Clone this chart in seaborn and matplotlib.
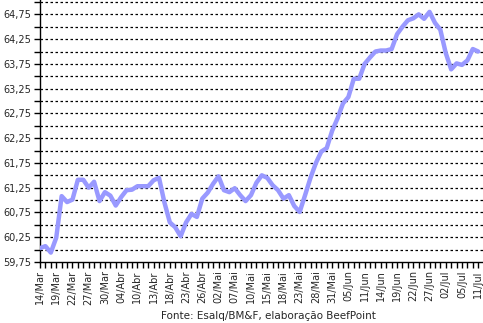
import numpy as np
import pandas as pd
import matplotlib
matplotlib.use('Agg')
import matplotlib.pyplot as plt
import matplotlib.ticker as mticker
import seaborn as sns

# ── DATA ─────────────────────────────────────────────────────────────────────
precos = [
    60.03, 60.07, 59.94, 60.24, 61.08, 60.96, 61.01, 61.41, 61.41, 61.25,
    61.37, 60.98, 61.16, 61.09, 60.89, 61.06, 61.20, 61.21, 61.28, 61.28,
    61.28, 61.40, 61.45, 60.95, 60.55, 60.45, 60.27, 60.55, 60.72, 60.66,
    61.03, 61.15, 61.33, 61.48, 61.20, 61.16, 61.24, 61.10, 60.98, 61.10,
    61.35, 61.50, 61.45, 61.30, 61.20, 61.03, 61.10, 60.88, 60.76, 61.10,
    61.45, 61.75, 61.98, 62.05, 62.40, 62.65, 62.95, 63.08, 63.45, 63.45,
    63.75, 63.88, 64.00, 64.02, 64.02, 64.05, 64.35, 64.50, 64.63, 64.67,
    64.75, 64.66, 64.80, 64.58, 64.44, 63.97, 63.64, 63.76, 63.73, 63.82,
    64.05, 64.00,
]
rotulos = ['14/Mar', '19/Mar', '22/Mar', '27/Mar', '30/Mar', '04/Abr', '10/Abr',
           '13/Abr', '18/Abr', '23/Abr', '26/Abr', '02/Mai', '07/Mai', '10/Mai',
           '15/Mai', '18/Mai', '23/Mai', '28/Mai', '31/Mai', '05/Jun', '11/Jun',
           '14/Jun', '19/Jun', '22/Jun', '27/Jun', '02/Jul', '05/Jul', '11/Jul']
fonte = 'Fonte: Esalq/BM&F, elaboração BeefPoint'

df = pd.DataFrame({'idx': np.arange(len(precos)), 'preco': precos})

# ── PLOT ─────────────────────────────────────────────────────────────────────
sns.set_style('white')
plt.rcParams['font.family'] = ['DejaVu Sans']

fig = plt.figure(figsize=(4.83, 3.23), dpi=100)
ax = fig.add_axes([40 / 483, 61 / 323, 443 / 483, 262 / 323])

# grade tracejada a cada 0,25
for v in np.arange(60.0, 65.01, 0.25):
    ax.axhline(v, color='black', linewidth=0.9, linestyle=(0, (2, 2)), zorder=1)

sns.lineplot(data=df, x='idx', y='preco', color='#9999FF', linewidth=3.2,
             ax=ax, zorder=3)

ax.set_xlim(0, 443 / 5.41)
ax.set_ylim(59.75, 65.04)

ax.set_xticks(np.arange(0, len(precos), 3))
ax.set_xticklabels(rotulos, rotation=90, fontsize=7)
ax.set_xticks(np.arange(len(precos)), minor=True)

ax.set_yticks(np.arange(59.75, 64.76, 0.5))
ax.yaxis.set_major_formatter(mticker.FuncFormatter(lambda v, p: f'{v:.2f}'.replace('.', ',')))
ax.set_yticks(np.arange(60.0, 65.01, 0.5), minor=True)
ax.tick_params(axis='y', labelsize=7, length=4, width=1, color='black', pad=2)
ax.tick_params(axis='y', which='minor', length=4, width=1, color='black')
ax.tick_params(axis='x', which='both', length=4, width=1, color='black', pad=2, bottom=True)
ax.tick_params(axis='y', which='both', left=True)

ax.set_xlabel('')
ax.set_ylabel('')
for s in ['top', 'right']:
    ax.spines[s].set_visible(False)
for s in ['left', 'bottom']:
    ax.spines[s].set_color('black')
    ax.spines[s].set_linewidth(1)

fig.text(268 / 483, 1 - 316 / 323, fonte, ha='center', va='center', fontsize=7.5)

fig.savefig('out.png', dpi=100)
